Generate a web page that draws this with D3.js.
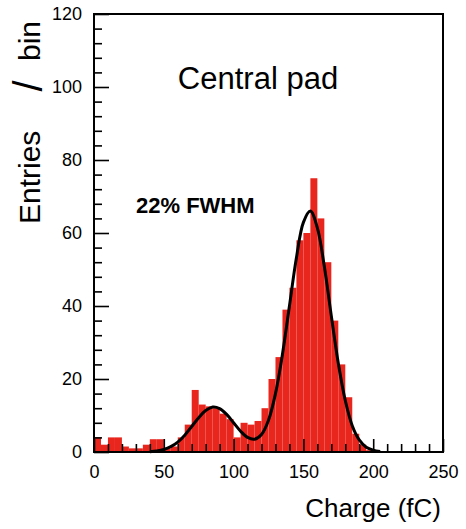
<!DOCTYPE html>
<html>
<head>
<meta charset="utf-8">
<script src="https://cdn.jsdelivr.net/npm/d3@7"></script>
<style>
  html, body { margin: 0; padding: 0; background: #fff; }
  svg { display: block; }
</style>
</head>
<body>
<svg id="chart" width="466" height="529"></svg>
<script>
// Charge spectrum of the central pad: histogram (5 fC bins) and double-Gaussian fit
const binLow = [0, 5, 10, 15, 20, 25, 30, 35, 40, 45,
                50, 55, 60, 65, 70, 75, 80, 85, 90, 95,
                100, 105, 110, 115, 120, 125, 130, 135, 140, 145,
                150, 155, 160, 165, 170, 175, 180, 185, 190, 195];
const binCounts = [4, 2, 4, 4, 1.5, 1, 1, 2, 3.5, 3.5,
                   1, 1.5, 4, 7.5, 17, 13, 12.5, 12, 10.5, 9,
                   4, 8, 7.5, 8.5, 12, 20, 26, 39, 45, 58,
                   60, 75, 64, 52, 36, 24, 15, 5, 2, 0.5];
const binWidth = 5;

const fitX = [40, 45, 50, 55, 60, 65, 70, 75, 80, 85, 90, 95, 100, 105, 110, 115,
              120, 125, 130, 135, 140, 145, 150, 155, 160, 165, 170, 175, 180, 185,
              190, 195, 200, 205];
const fitY = [0.1, 0.3, 0.7, 1.45, 2.7, 4.6, 7.0, 9.4, 11.35, 12.3, 11.9, 10.3, 8.0, 5.7, 4.0, 3.5,
              4.8, 8.7, 16.0, 26.8, 40.0, 53.2, 62.9, 66.0, 61.4, 50.8, 37.3, 24.3, 14.1, 7.2,
              3.3, 1.3, 0.5, 0.15];

const xTicksMajor = [0, 50, 100, 150, 200, 250];
const xTicksMinor = [10, 20, 30, 40, 60, 70, 80, 90, 110, 120, 130, 140, 160, 170, 180, 190, 210, 220, 230, 240];
const yTicksMajor = [0, 20, 40, 60, 80, 100, 120];
const yTicksMinor = [4, 8, 12, 16, 24, 28, 32, 36, 44, 48, 52, 56, 64, 68, 72, 76, 84, 88, 92, 96, 104, 108, 112, 116];

const svg = d3.select("#chart");
const plotLeft = 94, plotRight = 443, plotTop = 14, plotBottom = 452;

const x = d3.scaleLinear().domain([0, 250]).range([plotLeft, plotRight]);
const y = d3.scaleLinear().domain([0, 120]).range([plotBottom, plotTop]);

// histogram bars
svg.append("g")
  .selectAll("rect")
  .data(binLow)
  .join("rect")
  .attr("x", (d) => x(d))
  .attr("width", (d) => x(d + binWidth) - x(d))
  .attr("y", (d, i) => y(binCounts[i]))
  .attr("height", (d, i) => y(0) - y(binCounts[i]))
  .attr("fill", "#e8261e");

// fit curve
const line = d3.line().x((d) => x(d[0])).y((d) => y(d[1])).curve(d3.curveCatmullRom.alpha(0.5));
svg.append("path")
  .datum(fitX.map((v, i) => [v, fitY[i]]))
  .attr("d", line)
  .attr("fill", "none")
  .attr("stroke", "#000")
  .attr("stroke-width", 3)
  .attr("stroke-linejoin", "round");

const tickFont = "'Liberation Sans', Arial, sans-serif";

// x axis: ticks pointing up into the frame
const gxMinor = svg.append("g").attr("transform", `translate(0,${plotBottom})`)
  .call(d3.axisBottom(x).tickValues(xTicksMinor).tickSize(-8).tickSizeOuter(0).tickFormat(""));
const gx = svg.append("g").attr("transform", `translate(0,${plotBottom})`)
  .call(d3.axisBottom(x).tickValues(xTicksMajor).tickSize(-13).tickSizeOuter(0).tickPadding(13).tickFormat(d3.format("d")));

// y axis: ticks pointing right into the frame
const gyMinor = svg.append("g").attr("transform", `translate(${plotLeft},0)`)
  .call(d3.axisLeft(y).tickValues(yTicksMinor).tickSize(-8).tickSizeOuter(0).tickFormat(""));
const gy = svg.append("g").attr("transform", `translate(${plotLeft},0)`)
  .call(d3.axisLeft(y).tickValues(yTicksMajor).tickSize(-15).tickSizeOuter(0).tickPadding(12).tickFormat(d3.format("d")));

[gxMinor, gx, gyMinor, gy].forEach((g) => {
  g.select(".domain").remove();
  g.selectAll(".tick line").attr("stroke", "#000").attr("stroke-width", 1.6);
  g.selectAll(".tick text").attr("font-family", tickFont).attr("font-size", 18).attr("fill", "#000");
});

// frame
svg.append("rect")
  .attr("x", plotLeft).attr("y", plotTop)
  .attr("width", plotRight - plotLeft).attr("height", plotBottom - plotTop)
  .attr("fill", "none").attr("stroke", "#000").attr("stroke-width", 2);

const titleFont = "'Liberation Sans', Arial, sans-serif";

// axis titles
svg.append("text")
  .attr("x", 441).attr("y", 517)
  .attr("text-anchor", "end")
  .attr("font-family", titleFont).attr("font-size", 26)
  .text("Charge (fC)");

const yt = svg.append("g").attr("transform", "translate(40,0) rotate(-90)");
yt.append("text")
  .attr("x", -224).attr("y", 0)
  .attr("font-family", titleFont).attr("font-size", 30)
  .text("Entries");
yt.append("text")
  .attr("x", -86).attr("y", 2)
  .attr("text-anchor", "middle")
  .attr("font-family", titleFont).attr("font-size", 40)
  .text("/");
yt.append("text")
  .attr("x", -61).attr("y", 0)
  .attr("font-family", titleFont).attr("font-size", 30)
  .text("bin");

// annotations
svg.append("text")
  .attr("x", 258).attr("y", 89)
  .attr("text-anchor", "middle")
  .attr("font-family", titleFont).attr("font-size", 31)
  .text("Central pad");

svg.append("text")
  .attr("x", 136).attr("y", 213)
  .attr("font-family", titleFont).attr("font-size", 22).attr("font-weight", "bold")
  .text("22% FWHM");
</script>
</body>
</html>
